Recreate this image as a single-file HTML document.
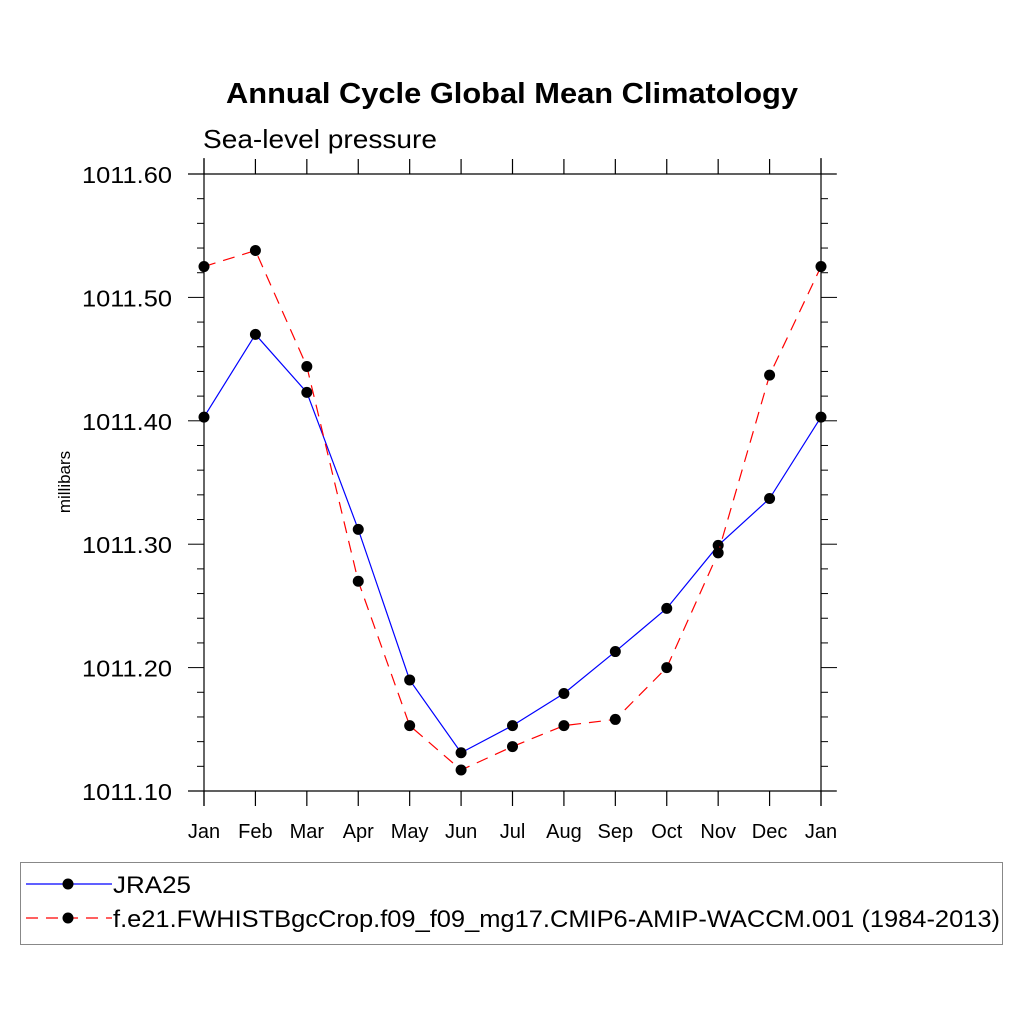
<!DOCTYPE html>
<html><head><meta charset="utf-8"><style>
body{margin:0;background:#fff;}
svg{display:block;font-family:"Liberation Sans",Arial,sans-serif;}
</style></head><body>
<svg id="chart" width="1024" height="1024" viewBox="0 0 1024 1024" xmlns="http://www.w3.org/2000/svg">
<rect width="1024" height="1024" fill="#fff"/>
<text x="512" y="103" text-anchor="middle" font-size="29" font-weight="bold" textLength="572" lengthAdjust="spacingAndGlyphs">Annual Cycle Global Mean Climatology</text>
<text x="203" y="148" font-size="26" textLength="234" lengthAdjust="spacingAndGlyphs">Sea-level pressure</text>
<text transform="translate(70,482) rotate(-90)" text-anchor="middle" font-size="17">millibars</text>
<g id="axes"></g>
<g id="series"></g>
<g>
<rect x="20.5" y="862.5" width="982" height="82" fill="none" stroke="#888" stroke-width="1"/>
<g>
<line x1="26" y1="884" x2="112" y2="884" stroke="#0000ff" stroke-width="1.2"/>
<circle cx="68" cy="884" r="5.5" fill="#000"/>
<text x="113" y="893" font-size="24" textLength="78" lengthAdjust="spacingAndGlyphs">JRA25</text>
</g>
<g>
<line x1="26" y1="918" x2="112" y2="918" stroke="#ff0000" stroke-width="1.2" stroke-dasharray="12,8"/>
<circle cx="68" cy="918" r="5.5" fill="#000"/>
<text x="113" y="927" font-size="24" textLength="887" lengthAdjust="spacingAndGlyphs">f.e21.FWHISTBgcCrop.f09_f09_mg17.CMIP6-AMIP-WACCM.001 (1984-2013)</text>
</g>
</g>
</svg>
<script>
const months=["Jan","Feb","Mar","Apr","May","Jun","Jul","Aug","Sep","Oct","Nov","Dec","Jan"];
const jra25=[1011.403,1011.470,1011.423,1011.312,1011.190,1011.131,1011.153,1011.179,1011.213,1011.248,1011.299,1011.337,1011.403];
const model=[1011.525,1011.538,1011.444,1011.270,1011.153,1011.117,1011.136,1011.153,1011.158,1011.200,1011.293,1011.437,1011.525];
const yTicks=["1011.10","1011.20","1011.30","1011.40","1011.50","1011.60"];
const yMin=1011.10,yMax=1011.60;
const L=204,R=821,T=174,B=791;
const NS="http://www.w3.org/2000/svg";
const xs=i=>L+(R-L)*i/(months.length-1);
const ys=v=>B-(v-yMin)/(yMax-yMin)*(B-T);
function el(tag,attrs,parent){const e=document.createElementNS(NS,tag);for(const k in attrs)e.setAttribute(k,attrs[k]);parent.appendChild(e);return e;}
const ax=document.getElementById('axes');
const sc="#000",sw=1.2;
let a=el('line',{x1:188,y1:B,x2:836,y2:B,stroke:sc,'stroke-width':sw},ax);


a=el('line',{x1:188,y1:T,x2:836,y2:T,stroke:sc,'stroke-width':sw},ax);


a=el('line',{x1:L,y1:158,x2:L,y2:806,stroke:sc,'stroke-width':sw},ax);


a=el('line',{x1:R,y1:158,x2:R,y2:806,stroke:sc,'stroke-width':sw},ax);


months.forEach((m,i)=>{const x=xs(i);
 el('line',{x1:x,y1:B,x2:x,y2:B+15,stroke:sc,'stroke-width':sw},ax);
 el('line',{x1:x,y1:T,x2:x,y2:T-15,stroke:sc,'stroke-width':sw},ax);
 const t=el('text',{x:x,y:838,'text-anchor':'middle','font-size':20},ax);t.textContent=m;
 
 
});
const nMinor=Math.round((yMax-yMin)/0.02);
for(let k=0;k<=nMinor;k++){const v=yMin+k*0.02;const y=ys(v);const major=k%5===0;const len=major?16:7;
 el('line',{x1:L-len,y1:y,x2:L,y2:y,stroke:sc,'stroke-width':1},ax);
 el('line',{x1:R,y1:y,x2:R+len,y2:y,stroke:sc,'stroke-width':1},ax);
}
yTicks.forEach(s=>{const y=ys(parseFloat(s));const t=el('text',{x:172,y:y+9,'text-anchor':'end','font-size':23,textLength:90,lengthAdjust:'spacingAndGlyphs'},ax);t.textContent=s;
 
 
});
const sg=document.getElementById('series');
function draw(vals,color,dash,name){
 const p=el('polyline',{points:vals.map((v,i)=>xs(i)+','+ys(v)).join(' '),fill:'none',stroke:color,'stroke-width':1.2,'stroke-dasharray':dash},sg);
 
 
 vals.forEach((v,i)=>{const c=el('circle',{cx:xs(i),cy:ys(v),r:5.5,fill:'#000'},sg);
  
  });
}
draw(jra25,'#0000ff','none','jra25');
draw(model,'#ff0000','12,8','model');
</script>
</body></html>
